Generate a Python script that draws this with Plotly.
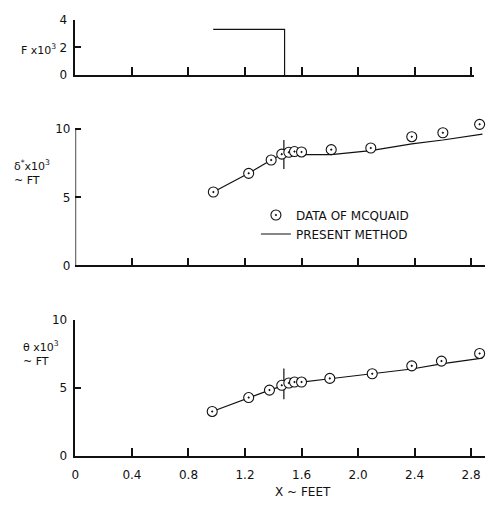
import plotly.graph_objects as go

# ---------------- data ----------------
# Top panel: F x 10^3 step
f_x = [0.975, 1.48, 1.48]
f_y = [3.3, 3.3, 0.0]

# Middle panel: displacement thickness delta* x 10^3 (ft)
dstar_data_x = [0.976, 1.226, 1.385, 1.46, 1.51, 1.55, 1.60, 1.81, 2.09, 2.38, 2.60, 2.86]
dstar_data_y = [5.39, 6.76, 7.74, 8.17, 8.31, 8.36, 8.33, 8.50, 8.62, 9.45, 9.74, 10.36]
dstar_line_x = [0.976, 1.226, 1.385, 1.46, 1.60, 1.81, 2.09, 2.38, 2.60, 2.88]
dstar_line_y = [5.39, 6.76, 7.74, 8.16, 8.13, 8.14, 8.43, 8.93, 9.21, 9.64]

# Bottom panel: momentum thickness theta x 10^3 (ft)
theta_data_x = [0.968, 1.226, 1.373, 1.46, 1.51, 1.55, 1.60, 1.80, 2.10, 2.38, 2.59, 2.86]
theta_data_y = [3.29, 4.31, 4.86, 5.21, 5.38, 5.45, 5.45, 5.72, 6.06, 6.64, 6.99, 7.55]
theta_line_x = [0.968, 1.226, 1.373, 1.46, 1.60, 1.80, 2.09, 2.38, 2.60, 2.88]
theta_line_y = [3.29, 4.31, 4.86, 5.15, 5.45, 5.69, 6.05, 6.41, 6.81, 7.21]

# vertical marker at end of step
mark_x = 1.475
mark_dstar = [7.07, 9.2]
mark_theta = [4.19, 6.45]

x_ticks = [0.4, 0.8, 1.2, 1.6, 2.0, 2.4, 2.8]
x_ticklabels = ["0.4", "0.8", "1.2", "1.6", "2.0", "2.4", "2.8"]

# ---------------- figure ----------------
W, H = 488, 507
FONT = "DejaVu Sans"
BLACK = "#111111"

def px_x(p):
    return p / W

def px_y(p):
    return 1 - p / H

x0 = 72
scale = 142.5
yscale = 14.0
mid_zero = 265.7
mid_top = 10.6

fig = go.Figure()

line_style = dict(color=BLACK, width=1.2)
marker_style = dict(symbol="circle-dot", size=10, color="white",
                    line=dict(color=BLACK, width=1.1))

# top
fig.add_trace(go.Scatter(x=f_x, y=f_y, mode="lines", line=line_style, cliponaxis=False,
                         xaxis="x", yaxis="y", showlegend=False))
# middle
fig.add_trace(go.Scatter(x=dstar_line_x, y=dstar_line_y, mode="lines", line=line_style,
                         cliponaxis=False,
                         xaxis="x2", yaxis="y2", name="PRESENT METHOD", showlegend=True,
                         legendrank=2))
fig.add_trace(go.Scatter(x=[mark_x, mark_x], y=mark_dstar, mode="lines", line=line_style,
                         xaxis="x2", yaxis="y2", showlegend=False))
fig.add_trace(go.Scatter(x=dstar_data_x, y=dstar_data_y, mode="markers", marker=marker_style,
                         cliponaxis=False,
                         xaxis="x2", yaxis="y2", name="DATA OF MCQUAID", showlegend=True,
                         legendrank=1))
# bottom
fig.add_trace(go.Scatter(x=theta_line_x, y=theta_line_y, mode="lines", line=line_style,
                         cliponaxis=False,
                         xaxis="x3", yaxis="y3", showlegend=False))
fig.add_trace(go.Scatter(x=[mark_x, mark_x], y=mark_theta, mode="lines", line=line_style,
                         xaxis="x3", yaxis="y3", showlegend=False))
fig.add_trace(go.Scatter(x=theta_data_x, y=theta_data_y, mode="markers", marker=marker_style,
                         cliponaxis=False,
                         xaxis="x3", yaxis="y3", showlegend=False))

common_x = dict(showgrid=False, zeroline=False, showline=True, linecolor=BLACK, linewidth=1.5,
                ticks="inside", ticklen=8, tickwidth=1.5, tickcolor=BLACK,
                tickvals=x_ticks, ticktext=x_ticklabels,
                tickfont=dict(family=FONT, size=12, color=BLACK))
common_y = dict(showgrid=False, zeroline=False, showline=True, linecolor=BLACK, linewidth=1.5,
                ticks="inside", ticklen=6, tickwidth=1.5, tickcolor=BLACK,
                tickfont=dict(family=FONT, size=12, color=BLACK), ticklabelstandoff=4)

xd_full = [px_x(x0), px_x(x0 + 2.9 * scale)]
xd_top = [px_x(x0), px_x(x0 + 2.82 * scale)]

fig.update_layout(
    width=W, height=H,
    margin=dict(l=0, r=0, t=0, b=0),
    paper_bgcolor="white", plot_bgcolor="white",
    xaxis=dict(common_x, domain=xd_top, range=[0, 2.82], anchor="y", showticklabels=False),
    yaxis=dict(common_y, domain=[px_y(70), px_y(13)], range=[0, 4], anchor="x",
               tickvals=[0, 2, 4], ticktext=["0", "2", "4"]),
    xaxis2=dict(common_x, domain=xd_full, range=[0, 2.9], anchor="y2", showticklabels=False),
    yaxis2=dict(common_y, domain=[px_y(mid_zero), px_y(mid_zero - mid_top * yscale)],
                range=[0, mid_top], anchor="x2", showline=False,
                tickvals=[0, 5, 10], ticktext=["0", "5", "10"]),
    xaxis3=dict(common_x, domain=xd_full, range=[0, 2.9], anchor="y3",
                tickvals=[0] + x_ticks, ticktext=["0"] + x_ticklabels,
                ticklabelstandoff=7),
    yaxis3=dict(common_y, domain=[px_y(462), px_y(322)], range=[0, 10], anchor="x3",
                tickvals=[0, 5, 10], ticktext=["0", "5", "10"]),
    legend=dict(x=px_x(254), y=px_y(199), xanchor="left", yanchor="top",
                bgcolor="rgba(0,0,0,0)", font=dict(family=FONT, size=12, color=BLACK),
                traceorder="normal", itemwidth=30),
    showlegend=True,
)

# middle-panel vertical axis line, ending at 10
fig.add_shape(type="line", xref="x2", yref="y2", x0=0, x1=0, y0=0, y1=10,
              line=dict(color=BLACK, width=1.5))

ann_font = dict(family=FONT, size=11, color=BLACK)
fig.add_annotation(x=px_x(54), y=px_y(44), xref="paper", yref="paper",
                   text="F x10<sup>3</sup>", showarrow=False, xanchor="right",
                   yanchor="middle", font=ann_font)
fig.add_annotation(x=px_x(8), y=px_y(170), xref="paper", yref="paper",
                   text="δ<sup>*</sup>x10<sup>3</sup><br>~ FT", showarrow=False,
                   xanchor="left", yanchor="middle", align="left", font=ann_font)
fig.add_annotation(x=px_x(17), y=px_y(356), xref="paper", yref="paper",
                   text="θ x10<sup>3</sup><br>~ FT", showarrow=False,
                   xanchor="left", yanchor="middle", align="left", font=ann_font)
fig.add_annotation(x=px_x(301), y=px_y(499), xref="paper", yref="paper",
                   text="X ~ FEET", showarrow=False, xanchor="center",
                   yanchor="middle", font=dict(family=FONT, size=12, color=BLACK))

fig.write_html("out.html")
